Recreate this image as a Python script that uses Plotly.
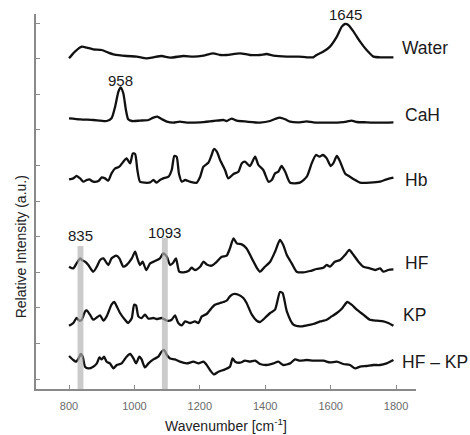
import plotly.graph_objects as go

# ---------------- data ----------------
names = ["Water", "CaH", "Hb", "HF", "KP", "HF – KP"]
offsets = [330.7, 266.7, 206.3, 117.3, 63.3, 22.3]

water_w = [800, 818, 839, 854, 874, 900, 920, 936, 976, 1007, 1038, 1058, 1083, 1109, 1150, 1180, 1211, 1241,
           1262, 1282, 1323, 1353, 1384, 1404, 1425, 1466, 1501, 1527, 1547, 1557, 1578, 1598, 1619, 1634, 1644,
           1654, 1670, 1690, 1710, 1731, 1751, 1792]
water_i = [0, 6.7, 11.7, 10.7, 9, 8.3, 5.7, 4, 2.3, 1.7, 0, 1, 2.3, 0.7, 2.3, 1.7, 2.7, 5,
           3.3, 3.3, 5, 3.3, 3.3, 4.3, 2.7, 1.7, 1.7, 1, 1, 3.3, 6.7, 11.7, 21.7, 31.7, 34.3,
           33.3, 26.7, 16.7, 8.3, 1.7, 1, 1]

cah_w = [800, 834, 874, 915, 930, 941, 951, 958, 966, 974, 981, 992, 1017, 1043, 1058, 1070, 1083, 1099, 1119,
         1139, 1160, 1201, 1241, 1272, 1282, 1297, 1313, 1343, 1384, 1415, 1430, 1445, 1461, 1476, 1506, 1527,
         1547, 1588, 1629, 1649, 1664, 1680, 1710, 1751, 1792]
cah_i = [4, 3, 2.3, 1.3, 4, 15.7, 30.7, 35, 29, 12.3, 3, 1.3, 1.7, 2.3, 4.7, 5.7, 3.3, 0.7, -0.3,
         0.7, -0.3, 0, 1.3, 2.3, 1.3, 3.7, 1.7, 0.7, -0.3, 1.3, 3.3, 4.7, 3, 0.7, 0, 1,
         0, -0.3, 0, 0.7, 1.7, 0.3, 0, -0.3, 0]

hb_w = [800, 813, 823, 834, 844, 854, 862, 874, 890, 900, 910, 920, 930, 941, 954, 966, 976, 987, 995, 1002,
        1009, 1017, 1032, 1048, 1058, 1068, 1078, 1088, 1104, 1114, 1122, 1129, 1136, 1145, 1155, 1170, 1190,
        1201, 1211, 1226, 1236, 1243, 1252, 1262, 1277, 1287, 1303, 1318, 1328, 1338, 1353, 1369, 1379, 1394,
        1410, 1420, 1430, 1440, 1450, 1461, 1476, 1506, 1527, 1542, 1555, 1566, 1576, 1588, 1600, 1608, 1619,
        1629, 1644, 1659, 1675, 1690, 1720, 1751, 1771, 1792]
hb_i = [3.3, 4.3, 6.7, 4.3, 1, 2.7, 3.3, 1, 1.7, 5.3, 4.3, 2, 9.3, 14.3, 16, 21, 24.3, 19.3, 29.3, 28.7,
        12.7, 1, 0, 0.3, 2.7, 0, 2.7, 4.3, 6, 12.7, 26.7, 26, 9.3, 1, 2.7, 1, 0,
        6, 16, 20, 27.7, 33.7, 31, 22.7, 12.7, 4.3, 8.7, 11, 19.3, 21, 16.7, 26, 17.7, 12.7,
        1, 2.7, 9.3, 11, 16.7, 11, 0, 0, 6, 19.3, 27.7, 26, 27.7, 24.3, 16.7, 19.3, 26.7,
        21, 9.3, 6, 2.7, 0, 0, 1, 3.3, 5]

hf_w = [800, 813, 823, 834, 839, 849, 859, 874, 885, 895, 905, 920, 930, 944, 954, 966, 976, 992, 1002, 1009,
        1017, 1025, 1036, 1048, 1063, 1078, 1088, 1099, 1109, 1119, 1127, 1137, 1150, 1165, 1175, 1185, 1201,
        1211, 1221, 1236, 1252, 1267, 1282, 1292, 1303, 1313, 1328, 1343, 1359, 1374, 1384, 1399, 1415, 1430,
        1445, 1455, 1466, 1481, 1496, 1517, 1537, 1557, 1578, 1588, 1598, 1613, 1629, 1644, 1657, 1670, 1685,
        1700, 1720, 1736, 1751, 1761, 1776, 1792]
hf_i = [5, 3.3, 8.3, 13.3, 11.7, 10, 6.7, 0, 5, 11.7, 13.3, 6.7, 13.3, 16, 13.3, 5, 6.7, 13.3, 20, 13.3,
        6.7, 10, 1.7, 8.3, 10.7, 13.3, 18.3, 15, 6.7, 9.3, 13.3, 0, -0.7, 0.7, 4, 1.7, 5,
        10, 7.3, 6, 10, 15, 16, 23.3, 33.3, 28.3, 27.3, 23.3, 13.3, 4, 0, 5, 10, 20,
        31.7, 26.7, 16.7, 8.3, 0, -0.7, 0.7, 2.7, 4, 6.7, 5, 10, 11.7, 16.7, 21.7, 16.7, 10,
        5, 3.3, 1.7, 3.3, 0, 1.7, 2.3]

kp_w = [800, 813, 823, 832, 839, 849, 854, 864, 874, 885, 895, 905, 915, 930, 938, 946, 956, 971, 981, 992,
        999, 1005, 1012, 1022, 1032, 1043, 1058, 1068, 1083, 1099, 1114, 1124, 1134, 1145, 1155, 1170, 1185,
        1196, 1206, 1221, 1236, 1246, 1262, 1272, 1282, 1292, 1303, 1318, 1333, 1343, 1359, 1374, 1384, 1399,
        1415, 1430, 1445, 1453, 1466, 1486, 1506, 1527, 1547, 1568, 1588, 1603, 1619, 1634, 1651, 1664, 1680,
        1700, 1720, 1741, 1761, 1776, 1792]
kp_i = [0, 2.7, 7.7, 5, 6, 14.3, 15.3, 11, 6, 8.3, 10.3, 5, 9.3, 21, 23.7, 19.3, 12.7, 6, 2.7, 7.7,
        21, 20.3, 9.3, 7.7, 11, 7, 7.7, 6.7, 7.7, 5, 6, 10.3, 2.7, 0.3, 4.3, 2.7, 4.3,
        2.7, 9.3, 11.7, 17.7, 21, 22.7, 23.7, 25, 29.3, 31.7, 31, 27.7, 22.7, 11, 5, 3.7, 7.7,
        12.7, 16, 33.7, 32.7, 14.3, 1, -0.7, 0.3, 1.7, 4.3, 6, 9.3, 12.7, 17, 23.7, 21, 16,
        11, 6, 5, 4.3, 2.7, 0]

diff_w = [800, 813, 821, 829, 836, 842, 849, 859, 874, 885, 893, 900, 907, 915, 925, 936, 946, 961, 976, 987,
          997, 1005, 1015, 1022, 1032, 1043, 1058, 1073, 1083, 1091, 1099, 1109, 1124, 1139, 1160, 1180, 1196,
          1211, 1221, 1231, 1243, 1257, 1277, 1292, 1300, 1308, 1323, 1338, 1353, 1369, 1384, 1404, 1425, 1440,
          1455, 1476, 1491, 1506, 1527, 1547, 1578, 1598, 1619, 1639, 1659, 1675, 1690, 1710, 1731, 1751, 1771,
          1792]
diff_i = [10.7, 6.7, 5, 8.3, 12.7, 10, 0, -1.7, 0, 3.3, 9.3, 7.3, 10, 5, 3.3, -1.7, 1.7, 3.3, 10, 12.7,
          8.3, 3.3, 10, 7.3, -0.7, 3.3, 7.3, 10, 15, 16.7, 11.7, 8.3, 7.3, 5, 3.3, 5, 3.3,
          5, 1.7, -3.3, -7.7, -5, -2.7, 0, 8.3, 5, 4, 6, 5, 6, 2.7, 1.7, 3.3, 5,
          1.7, 3.3, 7.3, 6, 6.7, 6, 6, 4.3, 5, 2.7, 1.7, -1.7, 0, 0.7, 1.7, 1.7, 3.3,
          6.7]

peak_labels = ["1645", "958", "835", "1093"]
peak_pos = [1645, 958, 835, 1093]
band_pos = [835, 1093]
band_top = [143, 151]

x_ticks = [800, 1000, 1200, 1400, 1600, 1800]

spectra_w = [water_w, cah_w, hb_w, hf_w, kp_w, diff_w]
spectra_i = [water_i, cah_i, hb_i, hf_i, kp_i, diff_i]

# ---------------- figure ----------------
fig = go.Figure()
for name, off, w, inten in zip(names, offsets, spectra_w, spectra_i):
    fig.add_trace(go.Scatter(
        x=w, y=[off + v for v in inten], mode="lines", name=name,
        line=dict(color="#111111", width=2.3, shape="spline", smoothing=0.6),
        showlegend=False, hoverinfo="skip"))

for bp, bt in zip(band_pos, band_top):
    fig.add_shape(type="rect", xref="x", yref="y", x0=bp - 9, x1=bp + 9, y0=0, y1=bt,
                  fillcolor="rgba(178,178,178,0.67)", line=dict(width=0), layer="above")

annotations = []
label_y = [341, 274, 209, 126, 74, 27]
label_x = [1812, 1820, 1822, 1820, 1816, 1812]
for name, lx, ly in zip(names, label_x, label_y):
    annotations.append(dict(x=lx, y=ly, xref="x", yref="y", text=name, showarrow=False,
                            xanchor="left", yanchor="middle",
                            font=dict(family="Liberation Sans, Arial", size=17.5, color="#1a1a1a")))

peak_y = [375, 309, 154, 157]
for lbl, px_, py_ in zip(peak_labels, peak_pos, peak_y):
    annotations.append(dict(x=px_, y=py_, xref="x", yref="y", text=lbl, showarrow=False,
                            xanchor="center", yanchor="middle",
                            font=dict(family="Liberation Sans, Arial", size=15, color="#1a1a1a")))

annotations.append(dict(x=-0.04, y=0.38, xref="paper", yref="paper",
                        text="Relative Intensity (a.u.)", textangle=-90, showarrow=False,
                        xanchor="center", yanchor="middle",
                        font=dict(family="Liberation Sans, Arial", size=14, color="#222222")))

fig.update_layout(
    width=470, height=435,
    margin=dict(l=36, r=54, t=14, b=46, autoexpand=False),
    paper_bgcolor="white", plot_bgcolor="white",
    annotations=annotations,
    font=dict(family="Liberation Sans, Arial"),
)
fig.update_xaxes(
    range=[699, 1861], tickvals=x_ticks, ticktext=[str(t) for t in x_ticks],
    showgrid=False, zeroline=False, showline=True, linecolor="#8a8a8a", linewidth=1.5,
    ticks="inside", ticklen=4, tickcolor="#8a8a8a", ticklabelstandoff=6,
    tickfont=dict(size=11, color="#6a6a6a"), automargin=False,
    title=dict(text="Wavenumber [cm<sup>-1</sup>]", standoff=10,
               font=dict(size=14, color="#222222")),
)
fig.update_yaxes(
    range=[0, 375], tick0=10, dtick=35.6, showticklabels=False,
    showgrid=False, zeroline=False, showline=True, linecolor="#8a8a8a", linewidth=1.5,
    ticks="inside", ticklen=4, tickcolor="#8a8a8a", automargin=False,
)

fig.write_html("out.html")
